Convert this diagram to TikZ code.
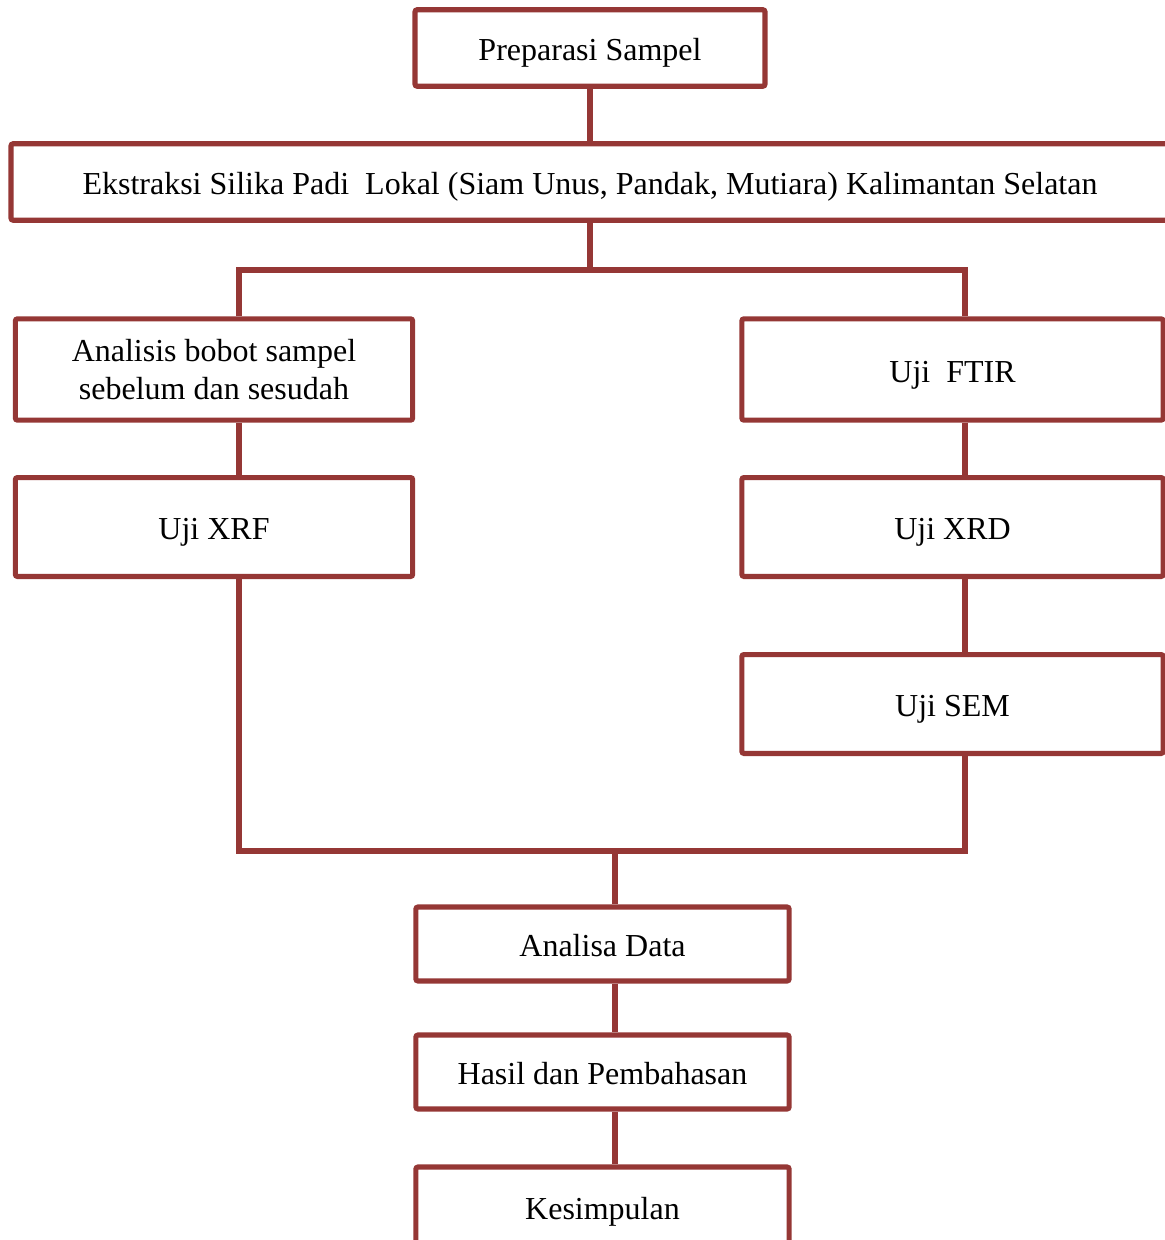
\documentclass[tikz,border=0pt]{standalone}
\usepackage{fontspec}
\setmainfont{Liberation Serif}
\usepackage{tikz}

\definecolor{boxred}{HTML}{953735}
\tikzset{
	box/.style={draw=boxred, line width=1.9pt, rounded corners=0.8pt, fill=white, align=center, inner sep=0pt, font=\fontsize{12}{14.25}\selectfont},
	oneline/.style={text height=12pt, text depth=2.5pt},
	link/.style={draw=boxred, line width=1.9pt},
	sidebox/.style={box, minimum width=149pt, minimum height=38pt},
	rightbox/.style={box, oneline, minimum width=158pt, minimum height=38pt},
	endbox/.style={box, oneline, minimum width=140pt, minimum height=27.75pt}
}

\begin{document}
\begin{tikzpicture}[x=0.375pt,y=-0.375pt]
	\useasboundingbox (0,0) rectangle (1165,1240);
	
	%top boxes
	\node[box, oneline, minimum width=131.25pt, minimum height=28.7pt] (prep) at (590,48) {Preparasi Sampel};
	\node[box, oneline, minimum width=434.25pt, minimum height=28.7pt] (eks) at (590,182) {Ekstraksi Silika Padi\ \ Lokal (Siam Unus, Pandak, Mutiara) Kalimantan Selatan};
	
	%left column
	\node[sidebox] (analisis) at (214,369.5) {Analisis bobot sampel\\sebelum dan sesudah};
	\node[sidebox, oneline, minimum height=37.1pt] (xrf) at (214,527) {Uji XRF};
	
	%right column
	\node[rightbox] (ftir) at (952.5,369.5) {Uji\ \ FTIR};
	\node[rightbox, minimum height=37.1pt] (xrd) at (952.5,527) {Uji XRD};
	\node[rightbox, minimum height=37.1pt] (sem) at (952.5,704) {Uji SEM};
	
	%bottom boxes
	\node[endbox] (analisa) at (602.5,944) {Analisa Data};
	\node[endbox] (hasil) at (602.5,1072) {Hasil dan Pembahasan};
	\node[endbox, minimum height=30pt] (simpul) at (602.5,1207) {Kesimpulan};
	
	%branch points
	\coordinate (lsplit) at (239,270);
	\coordinate (rsplit) at (965,270);
	\coordinate (ljoin) at (239,851);
	\coordinate (rjoin) at (965,851);
	\coordinate (mid) at (615,851);
	
	%lines
	\draw[link] (prep.south) -- (eks.north);
	\draw[link] (eks.south) -- (eks.south |- lsplit);
	\draw[link] (lsplit |- analisis.north) -- (lsplit) -- (rsplit) -- (rsplit |- ftir.north);
	\draw[link] (analisis.south -| lsplit) -- (xrf.north -| lsplit);
	\draw[link] (ftir.south -| rsplit) -- (xrd.north -| rsplit);
	\draw[link] (xrd.south -| rsplit) -- (sem.north -| rsplit);
	\draw[link] (xrf.south -| ljoin) -- (ljoin) -- (rjoin) -- (sem.south -| rjoin);
	\draw[link] (mid) -- (mid |- analisa.north);
	\draw[link] (analisa.south -| mid) -- (hasil.north -| mid);
	\draw[link] (hasil.south -| mid) -- (simpul.north -| mid);
\end{tikzpicture}
\end{document}
